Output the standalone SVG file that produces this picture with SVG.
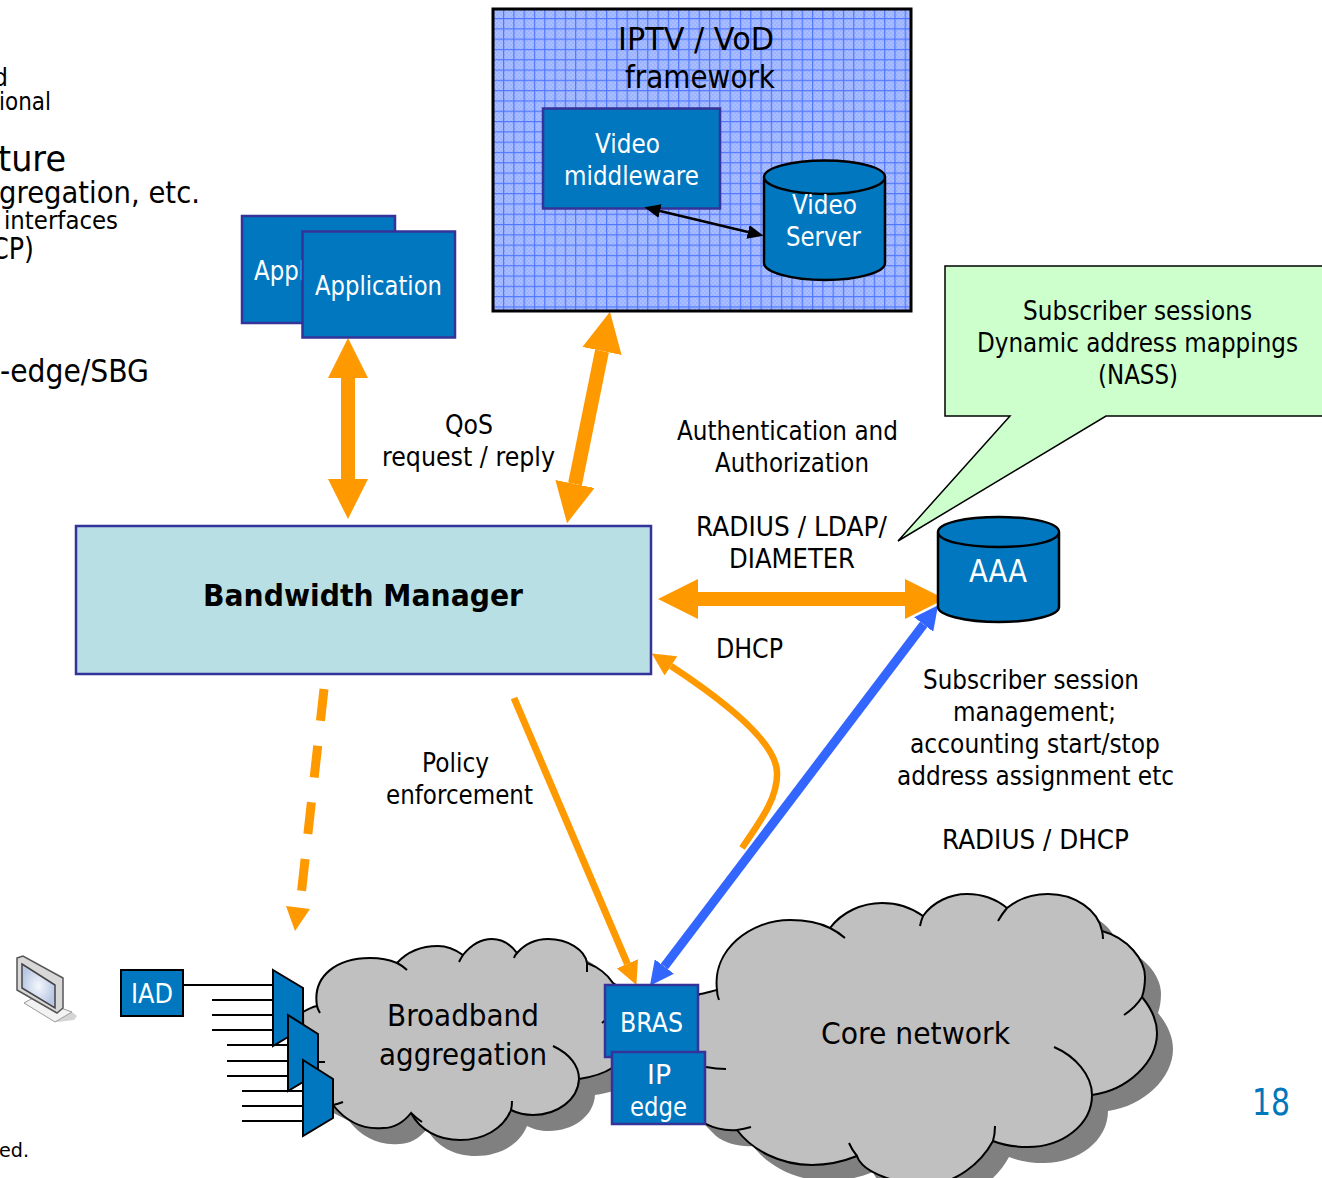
<svg xmlns="http://www.w3.org/2000/svg" width="1322" height="1178" viewBox="0 0 1322 1178">
<style>
text{font-family:"DejaVu Sans","Liberation Sans",sans-serif;fill:#000}
.w{fill:#fff}
.s26{font-size:26px}.s25{font-size:25px}.s30{font-size:30px}.s32{font-size:32px}.s36{font-size:36px}.s20{font-size:20px}
.box{fill:#0077bf;stroke:#333399;stroke-width:2.5}
.cyl{fill:#0077bf;stroke:#000;stroke-width:2.5}
.cloud{fill:#c0c0c0;stroke:#000;stroke-width:2}
.curl{fill:none;stroke:#000;stroke-width:2}
.shadow{fill:#808080}
.mux{fill:#0077bf;stroke:#000;stroke-width:2}
.ln{stroke:#000;stroke-width:2;fill:none}
.o{fill:none;stroke:#ff9900}
</style>
<defs>
<pattern id="dots" width="4" height="4" patternUnits="userSpaceOnUse">
<rect width="4" height="4" fill="#9cb3ff"/>
<path d="M0 0h2v2H0zM2 2h2v2H2z" fill="#a9bdff"/>
</pattern>
<pattern id="grid" width="10.3" height="10.3" patternUnits="userSpaceOnUse" x="503" y="18">
<path d="M0 .6H10.3M.6 0V10.3" stroke="#4f76ff" stroke-width="1.2" fill="none"/>
</pattern>
<radialGradient id="scr"><stop offset="0" stop-color="#f4f7fc"/><stop offset="1" stop-color="#b9c8e4"/></radialGradient>
<marker id="big" markerUnits="userSpaceOnUse" markerWidth="40" markerHeight="40" refX="0" refY="20" orient="auto-start-reverse" viewBox="0 0 40 40"><path d="M0 0L40 20L0 40Z" fill="#ff9900"/></marker>
<marker id="mid" markerUnits="userSpaceOnUse" markerWidth="23" markerHeight="23" refX="0" refY="11.500" orient="auto" viewBox="0 0 23 23"><path d="M0 0L23 11.500L0 23Z" fill="#ff9900"/></marker>
<marker id="blue" markerUnits="userSpaceOnUse" markerWidth="24" markerHeight="24" refX="0" refY="12" orient="auto-start-reverse" viewBox="0 0 24 24"><path d="M0 0L24 12L0 24Z" fill="#3366ff"/></marker>
<marker id="blk" markerUnits="userSpaceOnUse" markerWidth="16" markerHeight="14" refX="0" refY="7" orient="auto-start-reverse" viewBox="0 0 16 14"><path d="M0 0L16 7L0 14Z" fill="#000"/></marker>
<path id="bbPath" d="M303,1012 C308,1009 312,1007 317,1006 C312,975 338,958 370,958 C380,958 390,960 397,963 C407,952 422,946 438,946 C447,946 456,950 463,955 C471,945 481,939 492,939 C502,939 511,945 517,953 C525,944 536,939 548,939 C568,939 585,950 587,963 C598,967 608,975 613,983 L640,1000 L640,1050 L612,1068 C603,1074 592,1077 579,1079 C578,1100 557,1115 533,1115 C524,1115 517,1113 511,1110 C503,1130 482,1140 460,1140 C438,1140 420,1130 411,1113 C403,1123 393,1128 383,1128 C362,1130 345,1120 333,1105 L304,1090 Z"/>
<path id="corePath" d="M717,990 C712,950 750,920 790,920 C805,920 820,923 830,928 C842,912 862,903 882,903 C898,903 912,908 923,916 C933,902 950,894 967,894 C982,894 996,899 1007,908 C1018,899 1032,894 1048,894 C1075,894 1098,910 1102,931 C1128,938 1145,960 1145,977 C1145,985 1144,991 1142,997 C1151,1008 1157,1020 1157,1033 C1157,1062 1128,1090 1092,1095 C1092,1125 1062,1147 1028,1147 C1015,1147 1003,1145 993,1141 C980,1165 955,1182 933,1184 C897,1186 862,1172 857,1156 C842,1162 827,1165 812,1165 C780,1165 752,1150 737,1130 C725,1131 710,1128 700,1120 L680,1100 L680,1010 L700,994 C706,993 712,991 717,990 Z"/>
</defs>
<rect width="1322" height="1178" fill="#fff"/>

<g id="left-text">
<text class="s25" x="-7" y="86" textLength="15" lengthAdjust="spacingAndGlyphs">d</text>
<text class="s25" x="-1" y="110" textLength="52" lengthAdjust="spacingAndGlyphs">ional</text>
<text class="s36" x="-2" y="171" textLength="68" lengthAdjust="spacingAndGlyphs">ture</text>
<text class="s30" x="-1" y="203" textLength="201" lengthAdjust="spacingAndGlyphs">gregation, etc.</text>
<text class="s25" x="4" y="229" textLength="114" lengthAdjust="spacingAndGlyphs">interfaces</text>
<text class="s30" x="-9" y="259" textLength="43" lengthAdjust="spacingAndGlyphs">CP)</text>
<text class="s32" x="0" y="382" textLength="149" lengthAdjust="spacingAndGlyphs">-edge/SBG</text>
<text class="s20" x="-1" y="1157" textLength="30" lengthAdjust="spacingAndGlyphs">ed.</text>
</g>

<g id="core-network-shadow">
<use href="#corePath" class="shadow" x="16" y="16"/>
</g>
<g id="broadband-aggregation">
<use href="#bbPath" class="shadow" x="16" y="16"/>
<use href="#bbPath" class="cloud"/>
<path class="curl" d="M320,1013 Q318,1010 317,1006 M397,963 Q403,966 407,970 M459,962 Q461,958 463,955 M514,958 Q515,955 517,953 M587,963 L587,972 M602,1023 Q608,1018 612,1014 M553,1046 C570,1054 579,1066 579,1079 M512,1101 Q512,1106 511,1110 M411,1113 Q416,1118 422,1122 M343,1102 Q338,1104 333,1105 M318,1062 H325"/>
<text class="s30" x="387" y="1026" textLength="152" lengthAdjust="spacingAndGlyphs">Broadband</text>
<text class="s30" x="379" y="1065" textLength="168" lengthAdjust="spacingAndGlyphs">aggregation</text>
</g>
<g id="core-network">
<use href="#corePath" class="cloud"/>
<path class="curl" d="M719,1000 Q717,995 717,990 M830,928 Q838,932 845,938 M920,926 Q921,921 923,916 M998,921 Q1002,914 1007,908 M1103,939 Q1103,935 1102,931 M1142,997 Q1136,1007 1124,1015 M1054,1047 C1075,1056 1092,1075 1092,1095 M995,1126 Q995,1134 993,1141 M849,1143 Q852,1150 857,1156 M751,1127 Q744,1129 737,1130 M706,1067 Q716,1069 726,1069"/>
<text class="s30" x="821" y="1044" textLength="189" lengthAdjust="spacingAndGlyphs">Core network</text>
</g>

<g id="connectors">
<line class="o" x1="348" y1="378" x2="348" y2="479" stroke-width="14" marker-start="url(#big)" marker-end="url(#big)"/>
<line class="o" x1="602" y1="351" x2="575" y2="484" stroke-width="14" marker-start="url(#big)" marker-end="url(#big)"/>
<line class="o" x1="698" y1="599" x2="905" y2="599" stroke-width="14" marker-start="url(#big)" marker-end="url(#big)"/>
<line x1="664.400" y1="966.500" x2="923.600" y2="624.500" stroke="#3366ff" stroke-width="9" marker-start="url(#blue)" marker-end="url(#blue)"/>
<line class="o" x1="514" y1="698" x2="627.400" y2="963.800" stroke-width="7" marker-end="url(#mid)"/>
<path class="o" d="M742,848 C765,815 778,795 777,772 C776,745 735,708 671,666" stroke-width="6.500" marker-end="url(#mid)"/>
<path class="o" d="M324,689 L300,905" stroke-width="9" stroke-dasharray="32 25"/>
<path d="M286,906L310,909L295,931Z" fill="#ff9900"/>
<line class="ln" x1="183" y1="985" x2="273" y2="985"/>
<path class="ln" d="M212,1000H273M212,1015H273M212,1030H288M227,1045H288M227,1061H288M227,1076H303M242,1091H303M242,1106H303M242,1121H303"/>
</g>

<g id="iptv">
<rect x="493" y="9" width="418" height="302" fill="url(#dots)"/>
<rect x="493" y="9" width="418" height="302" fill="url(#grid)" stroke="#000" stroke-width="3"/>
<text class="s32" x="618" y="50" textLength="156" lengthAdjust="spacingAndGlyphs">IPTV / VoD</text>
<text class="s32" x="625" y="88" textLength="150" lengthAdjust="spacingAndGlyphs">framework</text>
</g>
<g id="video-middleware">
<rect class="box" x="543" y="108.500" width="177" height="100"/>
<text class="s26 w" x="595" y="153" textLength="65" lengthAdjust="spacingAndGlyphs">Video</text>
<text class="s26 w" x="564" y="185" textLength="135" lengthAdjust="spacingAndGlyphs">middleware</text>
</g>
<g id="video-server">
<path class="cyl" d="M764,177 V263 C764,272 791,280 825,280 C859,280 885,272 885,263 V177 C885,168 859,160.500 825,160.500 C791,160.500 764,168 764,177 C764,186 791,194 825,194 C859,194 885,186 885,177"/>
<text class="s26 w" x="792" y="214" textLength="65" lengthAdjust="spacingAndGlyphs">Video</text>
<text class="s26 w" x="786" y="246" textLength="75" lengthAdjust="spacingAndGlyphs">Server</text>
</g>
<g id="iptv-link">
<line x1="660" y1="211" x2="748" y2="232" stroke="#000" stroke-width="2.500" marker-start="url(#blk)" marker-end="url(#blk)"/>
</g>
<g id="application-back">
<rect class="box" x="242" y="216" width="153" height="107"/>
<text class="s26 w" x="254" y="280" textLength="128" lengthAdjust="spacingAndGlyphs">Application</text>
</g>
<g id="application-front">
<rect class="box" x="302.500" y="231.500" width="152.500" height="106"/>
<text class="s26 w" x="315" y="295" textLength="127" lengthAdjust="spacingAndGlyphs">Application</text>
</g>
<g id="bandwidth-manager">
<rect x="76" y="526" width="575" height="148" fill="#b8e0e4" stroke="#333399" stroke-width="2.500"/>
<text x="203" y="606" font-size="31" font-weight="700" textLength="320" lengthAdjust="spacingAndGlyphs">Bandwidth Manager</text>
</g>
<g id="aaa">
<path class="cyl" d="M938,532 V607 C938,615 965,622 999,622 C1033,622 1059,615 1059,607 V532 C1059,523 1033,517 999,517 C965,517 938,523 938,532 C938,541 965,547 999,547 C1033,547 1059,541 1059,532"/>
<text class="s32 w" x="969" y="582" textLength="58" lengthAdjust="spacingAndGlyphs">AAA</text>
</g>
<g id="callout">
<path d="M1335,266 H945 V416 H1010 L898,541 L1106,416 H1335" fill="#ccffcc" stroke="#000" stroke-width="1.500"/>
<text class="s26" x="1023" y="320" textLength="229" lengthAdjust="spacingAndGlyphs">Subscriber sessions</text>
<text class="s26" x="977" y="352" textLength="321" lengthAdjust="spacingAndGlyphs">Dynamic address mappings</text>
<text class="s26" x="1098" y="384" textLength="80" lengthAdjust="spacingAndGlyphs">(NASS)</text>
</g>

<g id="iad">
<rect x="121" y="970" width="62" height="46" fill="#0077bf" stroke="#000" stroke-width="2"/>
<text class="s26 w" x="131" y="1003" textLength="42" lengthAdjust="spacingAndGlyphs">IAD</text>
</g>
<g id="mux-1"><path class="mux" d="M273,970L303,988V1028L273,1046Z"/></g>
<g id="mux-2"><path class="mux" d="M288,1015L318,1034V1073L288,1091Z"/></g>
<g id="mux-3"><path class="mux" d="M303,1060L333,1079V1118L303,1136Z"/></g>

<g id="bras">
<rect class="box" x="605" y="985" width="93" height="72"/>
<text class="s26 w" x="620" y="1032" textLength="63" lengthAdjust="spacingAndGlyphs">BRAS</text>
</g>
<g id="ip-edge">
<rect class="box" x="612" y="1052" width="93" height="72"/>
<text class="s26 w" x="647" y="1084" textLength="24" lengthAdjust="spacingAndGlyphs">IP</text>
<text class="s26 w" x="630" y="1116" textLength="57" lengthAdjust="spacingAndGlyphs">edge</text>
</g>

<g id="monitor">
<path d="M55,1022L72,1012L77,1016L74,1020L58,1022Z" fill="#d4d4d4"/>
<path d="M24,1003L33,998L72,1012L55,1022Z" fill="#f2f2f2" stroke="#9a9a9a" stroke-width="1"/>
<path d="M17,958L23,956L63,978V1008L57,1013L17,990Z" fill="#d8d8d8" stroke="#555" stroke-width="1.500"/>
<path d="M22,964L55,985V1008L22,988Z" fill="url(#scr)" stroke="#444" stroke-width="1.500"/>
</g>

<g id="labels">
<text class="s26" x="445" y="434" textLength="48" lengthAdjust="spacingAndGlyphs">QoS</text>
<text class="s26" x="382" y="466" textLength="173" lengthAdjust="spacingAndGlyphs">request / reply</text>
<text class="s26" x="677" y="440" textLength="221" lengthAdjust="spacingAndGlyphs">Authentication and</text>
<text class="s26" x="715" y="472" textLength="154" lengthAdjust="spacingAndGlyphs">Authorization</text>
<text class="s26" x="696" y="536" textLength="191" lengthAdjust="spacingAndGlyphs">RADIUS / LDAP/</text>
<text class="s26" x="729" y="568" textLength="126" lengthAdjust="spacingAndGlyphs">DIAMETER</text>
<text class="s26" x="716" y="658" textLength="67" lengthAdjust="spacingAndGlyphs">DHCP</text>
<text class="s26" x="923" y="689" textLength="216" lengthAdjust="spacingAndGlyphs">Subscriber session</text>
<text class="s26" x="953" y="721" textLength="163" lengthAdjust="spacingAndGlyphs">management;</text>
<text class="s26" x="910" y="753" textLength="250" lengthAdjust="spacingAndGlyphs">accounting start/stop</text>
<text class="s26" x="897" y="785" textLength="277" lengthAdjust="spacingAndGlyphs">address assignment etc</text>
<text class="s26" x="942" y="849" textLength="187" lengthAdjust="spacingAndGlyphs">RADIUS / DHCP</text>
<text class="s26" x="422" y="772" textLength="67" lengthAdjust="spacingAndGlyphs">Policy</text>
<text class="s26" x="386" y="804" textLength="147" lengthAdjust="spacingAndGlyphs">enforcement</text>
<text x="1252" y="1115" font-size="38" style="fill:#0077bb" textLength="38" lengthAdjust="spacingAndGlyphs">18</text>
</g>
</svg>
